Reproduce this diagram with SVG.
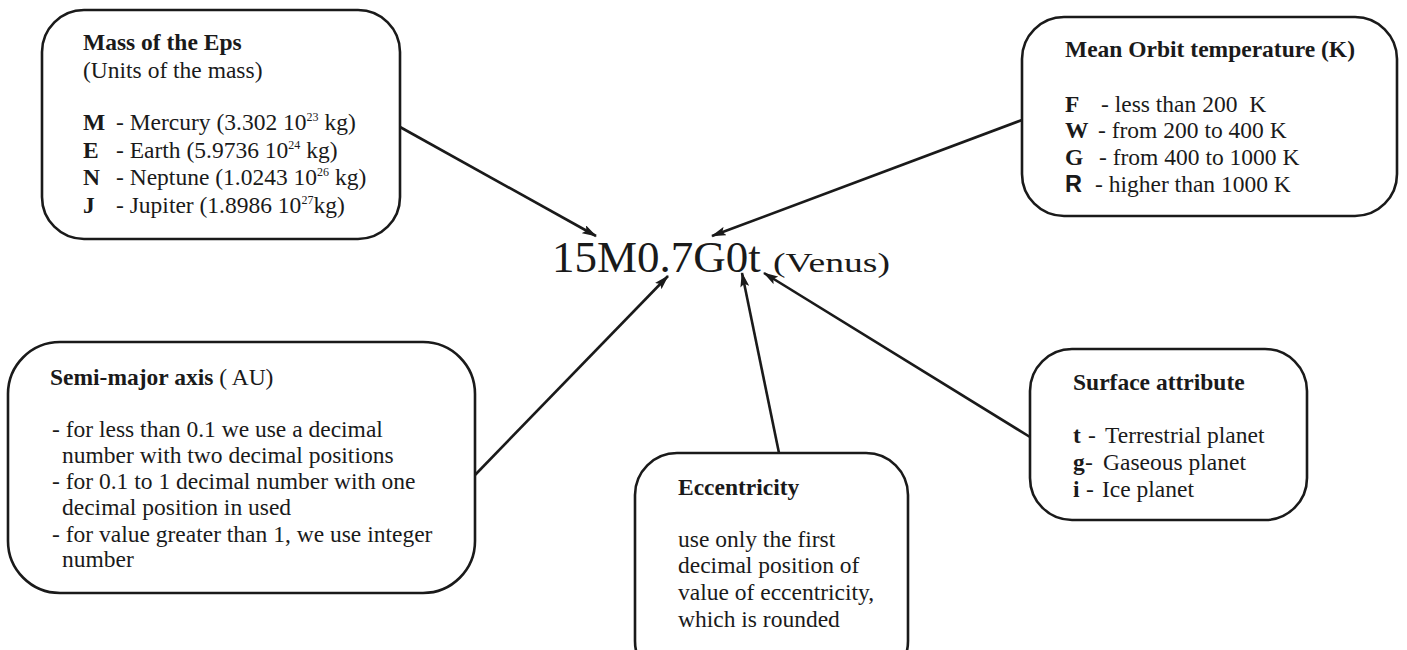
<svg xmlns="http://www.w3.org/2000/svg" width="1407" height="650" viewBox="0 0 1407 650">
<style>
.box{fill:#fff;stroke:#1a1a1a;stroke-width:2.6}
.t{font-family:"Liberation Serif","Times New Roman",serif;font-size:23.5px;fill:#1a1a1a}
.b{font-weight:bold}
.s{font-family:"Liberation Sans",Arial,sans-serif;font-weight:bold}
.sup{font-size:12px}
.con{stroke:#1a1a1a;stroke-width:2.6;fill:none;marker-end:url(#ah)}
</style>
<defs>
<marker id="ah" viewBox="0 0 15 9" refX="14" refY="4.5" markerWidth="15" markerHeight="9" markerUnits="userSpaceOnUse" orient="auto">
<path d="M0,0 L15,4.5 L0,9 L3,4.5 Z" fill="#1a1a1a"/>
</marker>
</defs>
<rect width="1407" height="650" fill="#fff"/>
<g id="connectors">
<line class="con" x1="400" y1="127" x2="596" y2="236"/>
<line class="con" x1="1022" y1="120" x2="712" y2="236"/>
<line class="con" x1="475" y1="475" x2="668" y2="276"/>
<line class="con" x1="779" y1="453" x2="742" y2="273"/>
<line class="con" x1="1030" y1="437" x2="764" y2="273"/>
</g>
<g id="center">
<text class="t" x="552" y="272" style="font-size:45px">15M0.7G0t</text>
<text class="t" x="773" y="272" style="font-size:28px" textLength="117" lengthAdjust="spacingAndGlyphs">(Venus)</text>
</g>
<g id="mass">
<rect class="box" x="42" y="10" width="358" height="229" rx="42"/>
<text class="t b" x="83" y="50">Mass of the Eps</text>
<text class="t" x="83" y="78">(Units of the mass)</text>
<text class="t" y="130"><tspan class="b" x="83">M</tspan><tspan x="116">- Mercury (3.302 10</tspan><tspan class="sup" dy="-9">23</tspan><tspan dy="9"> kg)</tspan></text>
<text class="t" y="158"><tspan class="b" x="83">E</tspan><tspan x="116">- Earth (5.9736 10</tspan><tspan class="sup" dy="-9">24</tspan><tspan dy="9"> kg)</tspan></text>
<text class="t" y="185"><tspan class="b" x="83">N</tspan><tspan x="116">- Neptune (1.0243 10</tspan><tspan class="sup" dy="-9">26</tspan><tspan dy="9"> kg)</tspan></text>
<text class="t" y="213"><tspan class="b" x="83">J</tspan><tspan x="116">- Jupiter (1.8986 10</tspan><tspan class="sup" dy="-9">27</tspan><tspan dy="9">kg)</tspan></text>
</g>
<g id="temperature">
<rect class="box" x="1022" y="17" width="375" height="199" rx="42"/>
<text class="t b" x="1065" y="57">Mean Orbit temperature (K)</text>
<text class="t" y="112"><tspan class="b" x="1065">F</tspan><tspan x="1101">- less than 200&#160; K</tspan></text>
<text class="t" y="138"><tspan class="b" x="1065">W</tspan><tspan x="1098">- from 200 to 400 K</tspan></text>
<text class="t" y="165"><tspan class="b" x="1065">G</tspan><tspan x="1099">- from 400 to 1000 K</tspan></text>
<text class="t" y="192"><tspan class="s" x="1065">R</tspan><tspan x="1095">- higher than 1000 K</tspan></text>
</g>
<g id="semimajor">
<rect class="box" x="8" y="342" width="467" height="251" rx="52"/>
<text class="t" x="50" y="385"><tspan class="b">Semi-major axis</tspan> ( AU)</text>
<text class="t" x="52" y="437">- for less than 0.1 we use a decimal</text>
<text class="t" x="62" y="463">number with two decimal positions</text>
<text class="t" x="52" y="489">- for 0.1 to 1 decimal number with one</text>
<text class="t" x="62" y="515">decimal position in used</text>
<text class="t" x="52" y="542">- for value greater than 1, we use integer</text>
<text class="t" x="62" y="567">number</text>
</g>
<g id="eccentricity">
<rect class="box" x="635" y="453" width="273" height="230" rx="42"/>
<text class="t b" x="678" y="495">Eccentricity</text>
<text class="t" x="678" y="547">use only the first</text>
<text class="t" x="678" y="573">decimal position of</text>
<text class="t" x="678" y="600">value of eccentricity,</text>
<text class="t" x="678" y="627">which is rounded</text>
</g>
<g id="surface">
<rect class="box" x="1030" y="349" width="277" height="171" rx="42"/>
<text class="t b" x="1073" y="390">Surface attribute</text>
<text class="t" y="443"><tspan class="b" x="1073">t</tspan><tspan x="1088">-</tspan><tspan x="1105">Terrestrial planet</tspan></text>
<text class="t" y="470"><tspan class="b" x="1073">g</tspan><tspan x="1085">-</tspan><tspan x="1103">Gaseous planet</tspan></text>
<text class="t" y="497"><tspan class="b" x="1073">i</tspan><tspan x="1086">-</tspan><tspan x="1102">Ice planet</tspan></text>
</g>
</svg>
